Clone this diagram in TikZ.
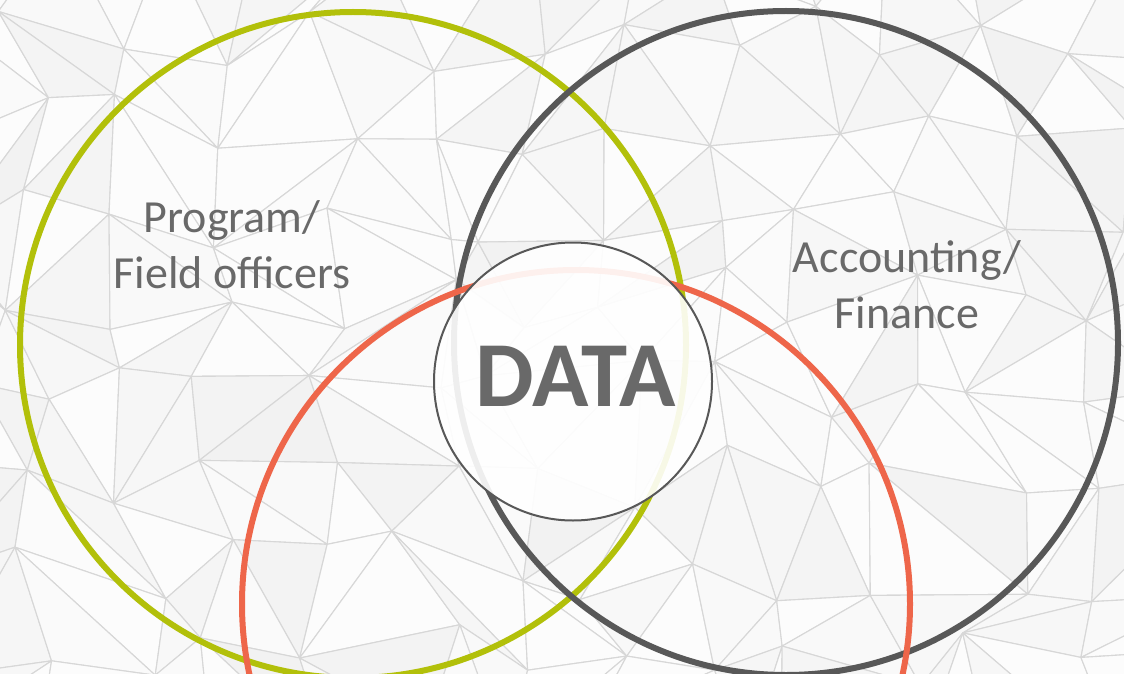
\documentclass[tikz,border=0pt]{standalone}
\usepackage{fontspec}
\setmainfont{Carlito}
\definecolor{cgreen}{RGB}{178,192,10}
\definecolor{cred}{RGB}{238,102,74}
\definecolor{cdark}{RGB}{88,88,88}
\definecolor{ctext}{RGB}{105,105,105}
\definecolor{cline}{RGB}{215,215,215}
\definecolor{cbg}{RGB}{252,252,252}
\tikzset{
  tri/.style={draw=cline, line width=1.1pt, line join=round},
  ring/.style={line width=6pt},
  lbl/.style={text=ctext, font=\fontsize{46}{56}\selectfont, align=center, inner sep=0pt},
  datacircle/.style={draw=cdark, line width=2pt, fill=white, fill opacity=0.9},
}
\begin{document}
\begin{tikzpicture}[x=1pt,y=-1pt]
\useasboundingbox (0,0) rectangle (1124,674);
\clip (0,0) rectangle (1124,674);
\fill[cbg] (0,0) rectangle (1124,674);
% low-poly background
\pgfmathsetseed{2024}
\foreach \i in {0,...,13}{
  \foreach \j in {0,...,9}{
    \pgfmathsetmacro\px{\i*96-60+rand*40}
    \pgfmathsetmacro\py{\j*88-50+rand*36}
    \coordinate (p-\i-\j) at (\px,\py);
  }
}
\foreach \i [evaluate=\i as \ii using int(\i+1)] in {0,...,12}{
  \foreach \j [evaluate=\j as \jj using int(\j+1)] in {0,...,8}{
    \pgfmathsetmacro\sa{max(0,rnd*6-2)}
    \pgfmathsetmacro\sb{max(0,rnd*6-2)}
    \pgfmathtruncatemacro\dg{rnd<0.5}
    \ifnum\dg=1
      \filldraw[tri, fill=black!\sa!cbg] (p-\i-\j) -- (p-\ii-\j) -- (p-\ii-\jj) -- cycle;
      \filldraw[tri, fill=black!\sb!cbg] (p-\i-\j) -- (p-\ii-\jj) -- (p-\i-\jj) -- cycle;
    \else
      \filldraw[tri, fill=black!\sa!cbg] (p-\i-\j) -- (p-\ii-\j) -- (p-\i-\jj) -- cycle;
      \filldraw[tri, fill=black!\sb!cbg] (p-\ii-\j) -- (p-\ii-\jj) -- (p-\i-\jj) -- cycle;
    \fi
  }
}
% circles
\draw[ring, cgreen] (353,345) circle[radius=333];
\draw[ring, cdark] (786,343) circle[radius=332];
\draw[ring, cred] (576,604) circle[radius=334];
\node[datacircle, circle, minimum size=278pt, inner sep=0pt] (data) at (573,381.5) {};
\node[text=ctext, font=\fontsize{93}{93}\selectfont\bfseries, anchor=base, inner sep=0pt] (datatext) at (576,406) {DATA};
\node[lbl, anchor=base] (program) at (232,288) {Program/\\Field officers};
\node[lbl, anchor=base] (accounting) at (907,328) {Accounting/\\Finance};
\end{tikzpicture}
\end{document}
